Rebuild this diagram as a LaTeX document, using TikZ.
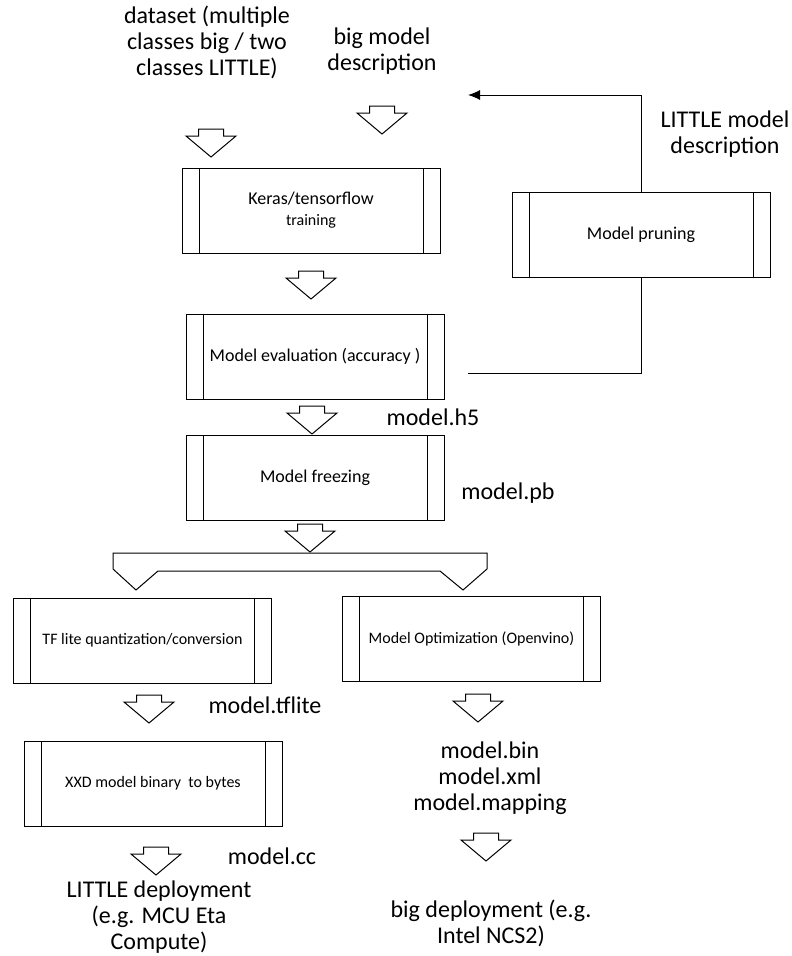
\documentclass[tikz,border=0pt]{standalone}
\usepackage{fontspec}
\setmainfont{Carlito}
\usetikzlibrary{arrows.meta,positioning}

\tikzset{
    blockarrow/.pic={\draw (-12.5,0) -- (12.5,0) -- (12.5,7) -- (25,7) -- (0,28) -- (-25,7) -- (-12.5,7) -- cycle;}
}

\begin{document}
\begin{tikzpicture}[
    x=1pt, y=-1pt, line width=1pt,
    proc/.style={rectangle, draw, minimum width=258pt, minimum height=85pt, align=center,
        font=\fontsize{18}{21}\selectfont,
        path picture={
            \draw ([xshift=17pt]path picture bounding box.north west) -- ([xshift=17pt]path picture bounding box.south west);
            \draw ([xshift=-17pt]path picture bounding box.north east) -- ([xshift=-17pt]path picture bounding box.south east);
        }},
    small/.style={font=\fontsize{16}{19}\selectfont},
    lbl/.style={align=center, inner sep=0pt, anchor=base, font=\fontsize{24}{26}\selectfont}
]
    \useasboundingbox (0,0) rectangle (792,956);

    % Create process boxes with relative positioning
    \node[proc] (train) at (311,210.5) {Keras/tensorflow\\[0pt]{\fontsize{16}{18}\selectfont training}};
    \node[proc, below=60pt of train, xshift=4pt] (eval) {Model evaluation (accuracy )};
    \node[proc, below=35pt of eval] (freeze) {Model freezing};
    \node[proc, right=71pt of train, yshift=-24pt] (prune) {Model pruning};
    \node[proc, small, below=77pt of freeze, xshift=-172.5pt] (tflite) {TF lite quantization/conversion};
    \node[proc, small, right=70pt of tflite, yshift=1.5pt] (opt) {Model Optimization (Openvino)};
    \node[proc, small, below=57pt of tflite, xshift=10.5pt] (xxd) {XXD model binary\ \ to bytes};

    % Labels for inputs and outputs (anchored at the last baseline)
    \node[lbl] (dataset) at (207,75) {dataset (multiple\\classes big / two\\classes LITTLE)};
    \node[lbl] (bigdesc) at (382,70) {big model\\description};
    \node[lbl] (littledesc) at (725,153) {LITTLE model\\description};
    \node[lbl] (h5) at (433,425) {model.h5};
    \node[lbl] (pb) at (508,499) {model.pb};
    \node[lbl] (tfl) at (265,713) {model.tflite};
    \node[lbl] (outs) at (490,810) {model.bin\\model.xml\\model.mapping};
    \node[lbl] (cc) at (272,864) {model.cc};
    \node[lbl] (littledep) at (159,949) {LITTLE deployment\\(e.g. MCU Eta\\Compute)};
    \node[lbl] (bigdep) at (491,943) {big deployment (e.g.\\Intel NCS2)};

    % Block arrows between the steps
    \pic at (211,129) {blockarrow};
    \pic at (382,106) {blockarrow};
    \pic at (311,271) {blockarrow};
    \pic at (312,406) {blockarrow};
    \pic at (310,524) {blockarrow};
    \pic at (149,695) {blockarrow};
    \pic at (478,694) {blockarrow};
    \pic at (156,847) {blockarrow};
    \pic at (486,833) {blockarrow};

    % Split arrow towards both toolchains
    \draw (113,553) -- (487,553) -- (487,569) -- (463,590) -- (440,571) -- (158,571) -- (136,590) -- (113,569) -- cycle;

    % Pruning loop back to the model description
    \coordinate (evalout) at (468,373);
    \coordinate (bigin) at (468,95);
    \draw (evalout) -| (prune.south);
    \draw[-{Latex[length=12pt, width=10pt]}] (prune.north) |- (bigin);
\end{tikzpicture}
\end{document}
